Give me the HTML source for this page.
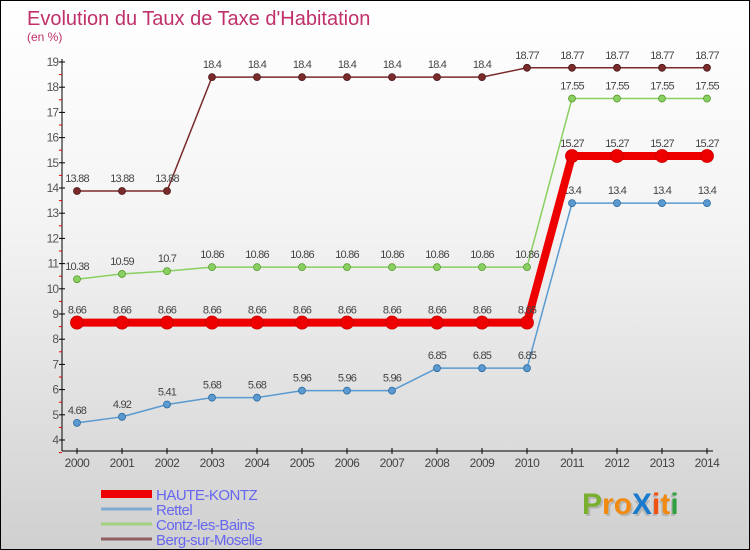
<!DOCTYPE html>
<html><head><meta charset="utf-8"><style>
body{margin:0}
#wrap{width:748px;height:548px;border:1px solid #000;background:linear-gradient(#fff,#f4f4f4 40%,#d0d0d0);position:relative;overflow:hidden;font-family:"Liberation Sans",sans-serif}
</style></head><body>
<div id="wrap">
<svg id="svg" width="748" height="548" xmlns="http://www.w3.org/2000/svg">
<text x="26" y="24" font-size="20" fill="#c0306a">Evolution du Taux de Taxe d'Habitation</text>
<text x="26" y="40" font-size="12" fill="#c0306a">(en %)</text>
<g id="axes"></g><g id="series"></g><g id="legend"></g>
<g font-size="30" font-weight="bold">
<text x="583" y="515" fill="#999" opacity=".5">Proxiti</text>
<text x="581" y="513"><tspan fill="#7ab030">P</tspan><tspan fill="#f08a10">ro</tspan><tspan fill="#1a7acc">X</tspan><tspan fill="#f05010">i</tspan><tspan fill="#f08a10">t</tspan><tspan fill="#30a040">i</tspan></text>
</g>
</svg>
</div>
<script>
const years=[2000,2001,2002,2003,2004,2005,2006,2007,2008,2009,2010,2011,2012,2013,2014];
const haute=[8.66,8.66,8.66,8.66,8.66,8.66,8.66,8.66,8.66,8.66,8.66,15.27,15.27,15.27,15.27];
const rettel=[4.68,4.92,5.41,5.68,5.68,5.96,5.96,5.96,6.85,6.85,6.85,13.4,13.4,13.4,13.4];
const contz=[10.38,10.59,10.7,10.86,10.86,10.86,10.86,10.86,10.86,10.86,10.86,17.55,17.55,17.55,17.55];
const berg=[13.88,13.88,13.88,18.4,18.4,18.4,18.4,18.4,18.4,18.4,18.77,18.77,18.77,18.77,18.77];
const yTicks=[4,5,6,7,8,9,10,11,12,13,14,15,16,17,18,19];
const labels={haute:["8.66","8.66","8.66","8.66","8.66","8.66","8.66","8.66","8.66","8.66","8.66","15.27","15.27","15.27","15.27"]};
const NS="http://www.w3.org/2000/svg";
const X=i=>76+i*45, Y=v=>439-(v-4)*(378/15);
function mk(t,a,p){const e=document.createElementNS(NS,t);for(const k in a)e.setAttribute(k,a[k]);p.appendChild(e);return e;}
const ax=document.getElementById('axes');
let l=mk('line',{x1:61,y1:58,x2:61,y2:450,stroke:'#000'},ax);

l=mk('line',{x1:61,y1:450,x2:712,y2:450,stroke:'#000'},ax);

yTicks.forEach(v=>{const y=Y(v);mk('line',{x1:58,y1:y,x2:64,y2:y,stroke:'#000'},ax);
 mk('line',{x1:58,y1:y+12.6,x2:61,y2:y+12.6,stroke:'#e00'},ax);
 const t=mk('text',{x:57,y:y+4,'font-size':12,'text-anchor':'end',fill:'#555','letter-spacing':'-1'},ax);t.textContent=v;
 });
years.forEach((yr,i)=>{mk('line',{x1:X(i),y1:447,x2:X(i),y2:453,stroke:'#000'},ax);
 const t=mk('text',{x:X(i),y:466,'font-size':12,'text-anchor':'middle',fill:'#444','letter-spacing':'-0.5'},ax);t.textContent=yr;
 });
const sg=document.getElementById('series');
function series(vals,color,w,r,name,dark){
 const g=mk('g',{},sg);
 mk('polyline',{points:vals.map((v,i)=>X(i)+','+Y(v)).join(' '),fill:'none',stroke:color,'stroke-width':w},g);
 vals.forEach((v,i)=>{const c=mk('circle',{cx:X(i),cy:Y(v),r:r,fill:color,stroke:dark,'stroke-width':0.8},g);
  
  const t=mk('text',{x:X(i),y:Y(v)-9,'font-size':11,'text-anchor':'middle',fill:'#444','letter-spacing':'-0.8'},g);
  t.textContent=String(v);});
}
series(berg,'#7a2a2a',1.5,3.5,'series-berg-sur-moselle','#4a1a1a');
series(contz,'#88d060',1.5,3.5,'series-contz-les-bains','#5a9a30');
series(rettel,'#5a9ad0',1.5,3.5,'series-rettel','#2a6aa0');
series(haute,'#ee0000',8,6.5,'series-haute-kontz','#cc0000');
const lg=document.getElementById('legend');
[['HAUTE-KONTZ','#ee0000',8],['Rettel','#80aad0',3],['Contz-les-Bains','#a0d080',3],['Berg-sur-Moselle','#906060',3]].forEach((d,i)=>{
 const y=493+i*15;const g=mk('g',{},lg);
 mk('line',{x1:100,y1:y,x2:151,y2:y,stroke:d[1],'stroke-width':d[2]},g);
 const t=mk('text',{x:155,y:y+6,'font-size':15,fill:'#6666ee','letter-spacing':'-0.5'},g);t.textContent=d[0];});
</script>
</body></html>
